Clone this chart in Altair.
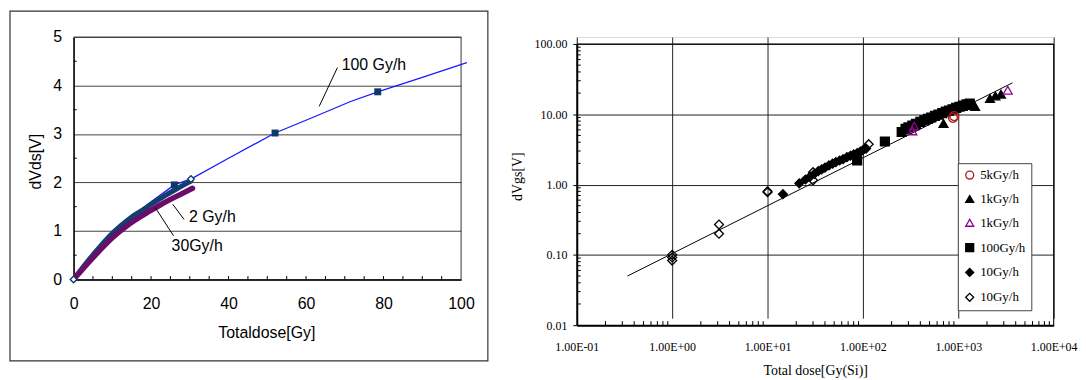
import altair as alt
import pandas as pd

# ---------------- Left chart data (linear) ----------------
line100_x = [0, 5, 10, 15, 20, 26, 30.5, 40, 52, 62, 71.5, 78.5, 90, 101.5]
line100_y = [0, 0.5, 0.97, 1.3, 1.6, 1.95, 2.08, 2.5, 3.02, 3.35, 3.67, 3.87, 4.17, 4.47]
sq100_x = [26, 52, 78.5]
sq100_y = [1.95, 3.02, 3.87]
band2_x = [0, 2, 4, 7, 10, 12.5, 15, 18, 20, 23, 26, 28, 30.3]
band2_y = [0, 0.21, 0.41, 0.69, 0.95, 1.13, 1.29, 1.44, 1.55, 1.7, 1.84, 1.93, 2.03]
band30_x = [0, 2, 4, 7, 10, 13, 16, 19, 22, 25, 28, 30.7]
band30_y = [0, 0.18, 0.36, 0.62, 0.86, 1.06, 1.23, 1.38, 1.52, 1.65, 1.77, 1.88]
open2_x = [30.3, 0]
open2_y = [2.07, 0]

ann_text = ["100 Gy/h", "2 Gy/h", "30Gy/h"]
ann_x = [69.2, 29.8, 25.3]
ann_y = [4.42, 1.29, 0.68]
lead_x = [68.1, 28.5, 25.8]
lead_y = [4.37, 1.24, 0.90]
lead_x2 = [63.4, 25.6, 21.1]
lead_y2 = [3.57, 1.55, 1.48]

lx_labels = [0, 20, 40, 60, 80, 100]
ly_labels = [0, 1, 2, 3, 4, 5]
lx_minor = [5 * i for i in range(1, 20)]
ly_minor = [0.5, 1.5, 2.5, 3.5, 4.5]

# ---------------- Right chart data (log-log) ----------------
r5k_x = [880, 905]
r5k_y = [8.9, 9.4]
r1k_x = [700, 1100, 1250, 1400, 1500, 2150, 2450, 2800]
r1k_y = [7.4, 12.9, 13.4, 13.5, 12.9, 16.8, 18.2, 19.3]
r1ko_x = [330, 345, 3300]
r1ko_y = [5.8, 6.8, 22.0]
r100_x = [87, 170, 255, 280, 300, 330, 360, 400, 440, 480, 520, 570, 620, 680, 740,
          800, 870, 950, 1030, 1120, 1220, 1320]
r100_y = [2.2, 4.1, 5.6, 6.2, 6.5, 6.9, 7.3, 7.8, 8.2, 8.6, 9.0, 9.5, 9.9, 10.4, 10.9,
          11.3, 11.8, 12.3, 12.8, 13.3, 13.8, 14.2]
r10f_x = [14.5, 21.5, 25, 28, 31, 34, 37, 40, 44, 48, 52, 57, 62, 68, 74, 80, 87, 94, 100, 108]
r10f_y = [0.73, 1.04, 1.18, 1.3, 1.42, 1.55, 1.65, 1.74, 1.87, 1.98, 2.08, 2.2, 2.3, 2.45,
          2.57, 2.68, 2.8, 2.95, 3.08, 3.25]
r10o_x = [1, 1, 1, 3.1, 3.1, 10, 10, 30, 30, 115]
r10o_y = [0.1, 0.092, 0.083, 0.27, 0.2, 0.8, 0.78, 1.5, 1.15, 3.75]
fit_x = [0.34, 3700]
fit_y = [0.05, 28]

series_keys = ["5kGy/h", "1kGy/h", "1kGy/h ", "100Gy/h", "10Gy/h", "10Gy/h "]
series_shapes = ["circle", "triangle-up", "triangle-up", "square", "diamond", "diamond"]
series_fills = ["transparent", "black", "transparent", "black", "black", "transparent"]
series_strokes = ["#b01818", "black", "#900090", "black", "black", "black"]

rx_ticks = [0.1, 1, 10, 100, 1000, 10000]
rx_tick_labels = ["1.00E-01", "1.00E+00", "1.00E+01", "1.00E+02", "1.00E+03", "1.00E+04"]
ry_ticks = [0.01, 0.1, 1, 10, 100]

# ================= LEFT CHART =================
LW, LH = 390, 244
SANS = "Liberation Sans"
lxs = alt.Scale(domain=[0, 100], nice=False, zero=False)
lys = alt.Scale(domain=[0, 5], nice=False, zero=False)

lx_axis = alt.Axis(
    values=lx_labels, tickSize=0, labelFont=SANS, labelFontSize=16, labelPadding=16,
    labelColor="black", labelFlush=False, domainColor="black", domainWidth=1.6,
    grid=False, title="Totaldose[Gy]", titleFont=SANS, titleFontSize=16,
    titleFontWeight="normal", titleColor="black", titleX=194, titleY=53,
    titleBaseline="middle")
ly_axis = alt.Axis(
    values=ly_labels, tickSize=0, labelFont=SANS, labelFontSize=16, labelPadding=12,
    labelColor="black", labelFlush=False, domainColor="black", domainWidth=1.6,
    grid=True, gridColor="#444444", gridWidth=1, title="dVds[V]", titleFont=SANS,
    titleFontSize=16, titleFontWeight="normal", titleColor="black", titleX=-38,
    titleY=125, titleAngle=270, titleBaseline="middle", titleAlign="center")


def lx(f="x"):
    return alt.X(f + ":Q", scale=lxs, axis=lx_axis)


def ly(f="y"):
    return alt.Y(f + ":Q", scale=lys, axis=ly_axis)


frame = alt.Chart(pd.DataFrame({"a": [0]})).mark_rect(
    fillOpacity=0, stroke="#333333", strokeWidth=1.2
).encode(x=alt.value(-64), x2=alt.value(417), y=alt.value(-26), y2=alt.value(326))

border_left = alt.Chart(pd.DataFrame({
    "x": [0, 100], "x2": [100, 100], "y": [5, 0], "y2": [5, 5]
})).mark_rule(color="#444444", strokeWidth=1).encode(x=lx(), x2="x2:Q", y=ly(), y2="y2:Q")

minor_left = alt.Chart(pd.DataFrame({
    "x": lx_minor + [0] * len(ly_minor),
    "x2": lx_minor + [0.8] * len(ly_minor),
    "y": [0] * len(lx_minor) + ly_minor,
    "y2": [0.07] * len(lx_minor) + ly_minor,
})).mark_rule(color="black", strokeWidth=1).encode(x=lx(), x2="x2:Q", y=ly(), y2="y2:Q")

blue_line = alt.Chart(pd.DataFrame({"x": line100_x, "y": line100_y})).mark_line(
    color="#1a1aff", strokeWidth=1.3).encode(x=lx(), y=ly())
navy_band = alt.Chart(pd.DataFrame({"x": band2_x, "y": band2_y})).mark_line(
    color="#12406e", strokeWidth=5, strokeCap="round", interpolate="monotone"
).encode(x=lx(), y=ly())
purple_band = alt.Chart(pd.DataFrame({"x": band30_x, "y": band30_y})).mark_line(
    color="#6a0d6a", strokeWidth=5.5, strokeCap="round", interpolate="monotone"
).encode(x=lx(), y=ly())
squares = alt.Chart(pd.DataFrame({"x": sq100_x, "y": sq100_y})).mark_point(
    shape="square", filled=True, size=49, color="#0b3a6a", opacity=1).encode(x=lx(), y=ly())
open2 = alt.Chart(pd.DataFrame({"x": open2_x, "y": open2_y})).mark_point(
    shape="diamond", size=45, fill="white", stroke="#0b3a6a", strokeWidth=1.3,
    opacity=1).encode(x=lx(), y=ly())

leaders = alt.Chart(pd.DataFrame({
    "x": lead_x, "y": lead_y, "x2": lead_x2, "y2": lead_y2
})).mark_rule(color="black", strokeWidth=1).encode(x=lx(), y=ly(), x2="x2:Q", y2="y2:Q")
anns = alt.Chart(pd.DataFrame({"x": ann_x, "y": ann_y, "t": ann_text})).mark_text(
    align="left", baseline="middle", font=SANS, fontSize=16, color="black"
).encode(x=lx(), y=ly(), text="t:N")

left = alt.layer(
    frame, border_left, minor_left, blue_line, navy_band, purple_band,
    squares, open2, leaders, anns
).properties(width=LW, height=LH)

# ================= RIGHT CHART =================
RW, RH = 480, 290
SERIF = "Liberation Serif"
rxs = alt.Scale(type="log", domain=[0.1, 10000], nice=False)
rys = alt.Scale(type="log", domain=[0.01, 100], nice=False, range=[290, 7])

lab_expr = ""
for v, lab in zip(rx_ticks[:-1], rx_tick_labels[:-1]):
    lab_expr += f"datum.value < {v * 3} ? '{lab}' : "
lab_expr += f"'{rx_tick_labels[-1]}'"

rx_axis = alt.Axis(
    values=rx_ticks, labelExpr=lab_expr, tickSize=0, labelFont=SERIF, labelFontSize=12,
    labelPadding=17, labelColor="black", labelFlush=False, labelOverlap=False,
    domainColor="black", domainWidth=2, grid=True, gridColor="#222222", gridWidth=1,
    title="Total dose[Gy(Si)]", titleFont=SERIF, titleFontSize=14,
    titleFontWeight="normal", titleColor="black", titleX=240, titleY=46,
    titleBaseline="middle")
ry_axis = alt.Axis(
    values=ry_ticks, format=".2f", tickSize=4, tickColor="black", labelFont=SERIF,
    labelFontSize=12, labelPadding=6, labelColor="black", labelFlush=False,
    labelOverlap=False, domainColor="black", domainWidth=2, grid=True,
    gridColor="#222222", gridWidth=1, title="dVgs[V]", titleFont=SERIF,
    titleFontSize=14, titleFontWeight="normal", titleColor="black", titleX=-60,
    titleY=140, titleAngle=270, titleBaseline="middle", titleAlign="center")


def rx(f="x"):
    return alt.X(f + ":Q", scale=rxs, axis=rx_axis)


def ry(f="y"):
    return alt.Y(f + ":Q", scale=rys, axis=ry_axis)


border_right = alt.Chart(pd.DataFrame({
    "x": [0.1, 10000], "x2": [10000, 10000], "y": [100, 0.01], "y2": [100, 100]
})).mark_rule(color="black", strokeWidth=1).encode(x=rx(), x2="x2:Q", y=ry(), y2="y2:Q")

bx_minor = [k * 10 ** d for d in range(-1, 4) for k in range(2, 10)]
by_minor = [k * 10 ** d for d in range(-2, 2) for k in range(2, 10)]
minor_right = alt.Chart(pd.DataFrame({
    "x": bx_minor + [0.1] * len(by_minor),
    "x2": bx_minor + [0.11] * len(by_minor),
    "y": [0.01] * len(bx_minor) + by_minor,
    "y2": [0.0114] * len(bx_minor) + by_minor,
})).mark_rule(color="black", strokeWidth=1).encode(x=rx(), x2="x2:Q", y=ry(), y2="y2:Q")

fit = alt.Chart(pd.DataFrame({"x": fit_x, "y": fit_y})).mark_line(
    color="black", strokeWidth=1).encode(x=rx(), y=ry())

rows = []
for key, xs, ys in [
    ("10Gy/h", r10f_x, r10f_y), ("10Gy/h ", r10o_x, r10o_y), ("100Gy/h", r100_x, r100_y),
    ("1kGy/h", r1k_x, r1k_y), ("1kGy/h ", r1ko_x, r1ko_y), ("5kGy/h", r5k_x, r5k_y),
]:
    for a, b in zip(xs, ys):
        rows.append({"x": a, "y": b, "s": key})
pts_df = pd.DataFrame(rows)
pts_df["o"] = range(len(pts_df))

legend = alt.Legend(
    orient="none", legendX=890, legendY=127, title=None, padding=5.5, rowPadding=10,
    symbolSize=64, symbolStrokeWidth=1.3, labelFont=SERIF, labelFontSize=13,
    labelOffset=4, labelColor="black", strokeColor="#444444", fillColor="white",
)
points = alt.Chart(pts_df).mark_point(size=80, strokeWidth=1.3, opacity=1).encode(
    x=rx(), y=ry(),
    shape=alt.Shape("s:N", scale=alt.Scale(domain=series_keys, range=series_shapes), legend=legend),
    fill=alt.Fill("s:N", scale=alt.Scale(domain=series_keys, range=series_fills), legend=legend),
    stroke=alt.Stroke("s:N", scale=alt.Scale(domain=series_keys, range=series_strokes), legend=legend),
    order="o:Q",
)

right = alt.layer(minor_right, border_right, fit, points).properties(
    width=RW, height=RH)

chart = alt.hconcat(left, right, spacing=116.5, bounds="flush").properties(
    padding={"left": 0, "top": 0, "right": 0, "bottom": 0}
).configure_view(stroke=None).configure(background="white")

chart.save("out.html", embed_options={"renderer": "svg", "actions": False})
